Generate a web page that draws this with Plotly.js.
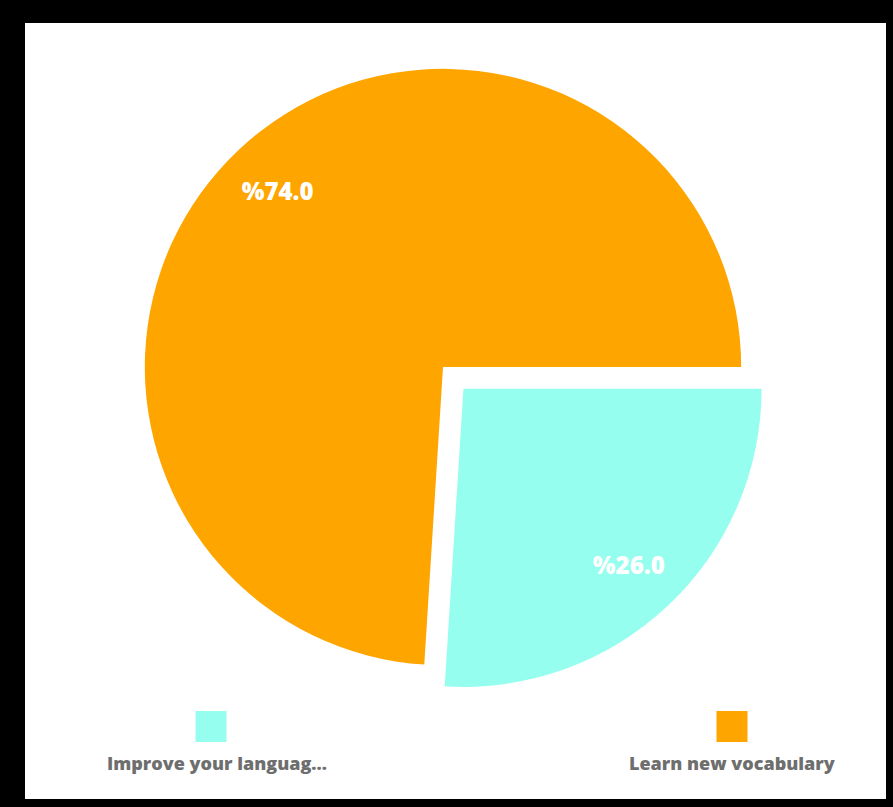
<!DOCTYPE html>
<html>
<head>
<meta charset="utf-8">
<script src="https://cdn.plot.ly/plotly-3.0.1.min.js"></script>
<style>
  html, body { margin: 0; padding: 0; background: #000; width: 893px; height: 807px; overflow: hidden; }
  #chart { position: absolute; left: 25px; top: 23px; width: 861px; height: 776px; background: #fff; }
</style>
</head>
<body>
<div id="chart"></div>
<script>
// Data
const labels = ["Improve your languag...", "Learn new vocabulary"];
const values = [26.0, 74.0];
const colors = ["#96FEEE", "#FFA500"];
const pulls = [0.1, 0];

const W = 861, H = 776;
// legend layout (pixel positions within the chart area)
const legendSquareCenters = [186, 707];
const legendTextCenters = [192, 707];
const sq = 31;
const sqTop = 688;
const textY = 740;

const shapes = labels.map((l, i) => ({
  type: "rect", xref: "paper", yref: "paper",
  x0: (legendSquareCenters[i] - sq / 2) / W, x1: (legendSquareCenters[i] + sq / 2) / W,
  y0: 1 - (sqTop + sq) / H, y1: 1 - sqTop / H,
  fillcolor: colors[i], line: { width: 0 }
}));
const annotations = labels.map((l, i) => ({
  text: l, xref: "paper", yref: "paper", showarrow: false,
  x: legendTextCenters[i] / W, y: 1 - textY / H, xanchor: "center", yanchor: "middle",
  font: { family: "Open Sans", size: 18, weight: 800, color: "#6e6e6e" }
}));

const cx = 418, cy = 344, half = 328;
const domain = { x: [(cx - half) / W, (cx + half) / W], y: [1 - (cy + half) / H, 1 - (cy - half) / H] };

// Trace 1: the filled pie slices
const pieFill = {
  type: "pie",
  labels: labels,
  values: values,
  marker: { colors: colors, line: { width: 0 } },
  pull: pulls,
  sort: false,
  direction: "clockwise",
  rotation: 90,
  textinfo: "none",
  hoverinfo: "none",
  domain: domain
};
// Trace 2: same slices as an outer ring carrying the percentage labels
const pieLabels = {
  type: "pie",
  labels: labels,
  values: values,
  marker: { colors: labels.map(() => "rgba(0,0,0,0)"), line: { width: 0 } },
  pull: pulls,
  hole: 0.62,
  sort: false,
  direction: "clockwise",
  rotation: 90,
  texttemplate: "%%{value:.1f}",
  textposition: "inside",
  insidetextorientation: "horizontal",
  textfont: { family: "Open Sans", size: 24, weight: 800, color: "#ffffff" },
  hoverinfo: "none",
  domain: domain
};

Plotly.newPlot("chart", [pieFill, pieLabels], {
  width: W, height: H,
  margin: { l: 0, r: 0, t: 0, b: 0 },
  paper_bgcolor: "#ffffff",
  showlegend: false,
  shapes: shapes,
  annotations: annotations
}, { staticPlot: true });
</script>
</body>
</html>
